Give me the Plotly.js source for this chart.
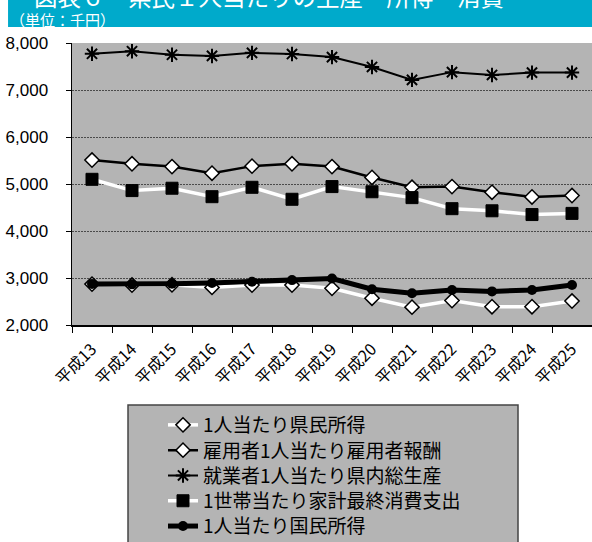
<!DOCTYPE html>
<html>
<head>
<meta charset="utf-8">
<script src="https://cdn.plot.ly/plotly-3.0.1.min.js"></script>
<style>html,body{margin:0;padding:0;background:#fff;}#chart{width:592px;height:542px;}</style>
</head>
<body>
<div id="chart"></div>
<script>
const categories = ["平成13","平成14","平成15","平成16","平成17","平成18","平成19","平成20","平成21","平成22","平成23","平成24","平成25"];
const prefIncome = [2870, 2850, 2855, 2800, 2850, 2850, 2780, 2570, 2380, 2520, 2390, 2390, 2510];
const employeeComp = [5510, 5430, 5370, 5230, 5380, 5430, 5370, 5140, 4930, 4945, 4825, 4725, 4755];
const workerProduct = [7770, 7825, 7750, 7725, 7790, 7765, 7700, 7490, 7215, 7380, 7320, 7370, 7370];
const householdCons = [5100, 4860, 4910, 4730, 4930, 4675, 4945, 4835, 4710, 4475, 4430, 4350, 4375];
const nationalIncome = [2875, 2865, 2880, 2895, 2920, 2955, 2990, 2760, 2675, 2745, 2715, 2745, 2850];
const seriesNames = ["1人当たり県民所得","雇用者1人当たり雇用者報酬","就業者1人当たり県内総生産","1世帯当たり家計最終消費支出","1人当たり国民所得"];
const yTicks = [2000, 3000, 4000, 5000, 6000, 7000, 8000];
const yTickText = ["2,000","3,000","4,000","5,000","6,000","7,000","8,000"];
const titleText = "図表６　県民１人当たりの生産・所得・消費";
const unitText = "（単位：千円）";

const JP = "'Noto Sans CJK JP', 'Noto Sans', sans-serif";
const NUM = "'Liberation Sans', Arial, 'Noto Sans CJK JP', sans-serif";
const legendIds = ["legend", "legend2", "legend3", "legend4", "legend5"];

const traces = [
  {x: categories, y: prefIncome, name: seriesNames[0], mode: "lines+markers", legend: legendIds[0],
   line: {color: "#ffffff", width: 3.5},
   marker: {symbol: "diamond", size: 11, color: "#ffffff", line: {color: "#000", width: 1.5}}},
  {x: categories, y: employeeComp, name: seriesNames[1], mode: "lines+markers", legend: legendIds[1],
   line: {color: "#000000", width: 2.5},
   marker: {symbol: "diamond", size: 11, color: "#ffffff", line: {color: "#000", width: 1.5}}},
  {x: categories, y: workerProduct, name: seriesNames[2], mode: "lines+markers", legend: legendIds[2],
   line: {color: "#000000", width: 2},
   marker: {symbol: "asterisk-open", size: 12, color: "#000", line: {color: "#000", width: 2}}},
  {x: categories, y: householdCons, name: seriesNames[3], mode: "lines+markers", legend: legendIds[3],
   line: {color: "#ffffff", width: 3.5},
   marker: {symbol: "square", size: 12, color: "#000000", line: {color: "#000", width: 1}}},
  {x: categories, y: nationalIncome, name: seriesNames[4], mode: "lines+markers", legend: legendIds[4],
   line: {color: "#000000", width: 5},
   marker: {symbol: "circle", size: 10, color: "#000000"}}
];

// plot area: top 43px, bottom 325px (282px tall)
function legendBox(i) {
  const topPx = 406 + 25.3 * i;
  return {
    x: 0.175, xanchor: "left",
    y: (325 - topPx) / 282, yanchor: "top",
    bgcolor: "rgba(0,0,0,0)", borderwidth: 0,
    font: {family: JP, size: 19, color: "#000"}
  };
}

const layout = {
  width: 592, height: 542,
  margin: {l: 72, r: 0, t: 43, b: 217, pad: 0, autoexpand: false},
  paper_bgcolor: "#ffffff",
  plot_bgcolor: "#b4b4b4",
  showlegend: true,
  font: {family: JP, color: "#000"},
  xaxis: {
    type: "category",
    tickangle: -45,
    tickson: "boundaries",
    ticks: "outside", ticklen: 6, tickcolor: "#000", tickwidth: 1,
    ticklabelstandoff: 7,
    showline: true, linecolor: "#000", linewidth: 1.5,
    showgrid: false,
    tickfont: {family: JP, size: 16, color: "#000"},
    range: [-0.5, 12.5],
    fixedrange: true
  },
  yaxis: {
    range: [2000, 8000],
    tickvals: yTicks, ticktext: yTickText,
    ticks: "outside", ticklen: 5, tickcolor: "#000", tickwidth: 1,
    ticklabelstandoff: 14,
    showline: true, linecolor: "#000", linewidth: 1.5,
    showgrid: true, gridcolor: "#4a4a4a", gridwidth: 1, griddash: "2px,1px",
    zeroline: false,
    tickfont: {family: NUM, size: 17, color: "#000"},
    fixedrange: true
  },
  shapes: [
    {type: "rect", xref: "paper", yref: "paper", x0: -0.123, x1: 1.01, y0: 1.0567, y1: 1.3,
     fillcolor: "#00aacb", line: {width: 0}, layer: "below"},
    {type: "rect", xref: "paper", yref: "paper", x0: 0.1077, x1: 0.8577, y0: -0.2837, y1: -0.86,
     fillcolor: "#b4b4b4", line: {color: "#444", width: 1.5}, layer: "below"}
  ],
  annotations: [
    {text: titleText, xref: "paper", yref: "paper", x: 0.379, y: 1.1, xanchor: "center", yanchor: "bottom",
     showarrow: false, font: {family: JP, size: 23.5, color: "#ffffff"}},
    {text: unitText, xref: "paper", yref: "paper", x: -0.123, y: 1.085, xanchor: "left", yanchor: "middle",
     showarrow: false, font: {family: JP, size: 15, color: "#ffffff"}}
  ]
};
legendIds.forEach((id, i) => { layout[id] = legendBox(i); });

Plotly.newPlot("chart", traces, layout, {displayModeBar: false, staticPlot: true});
</script>
</body>
</html>
